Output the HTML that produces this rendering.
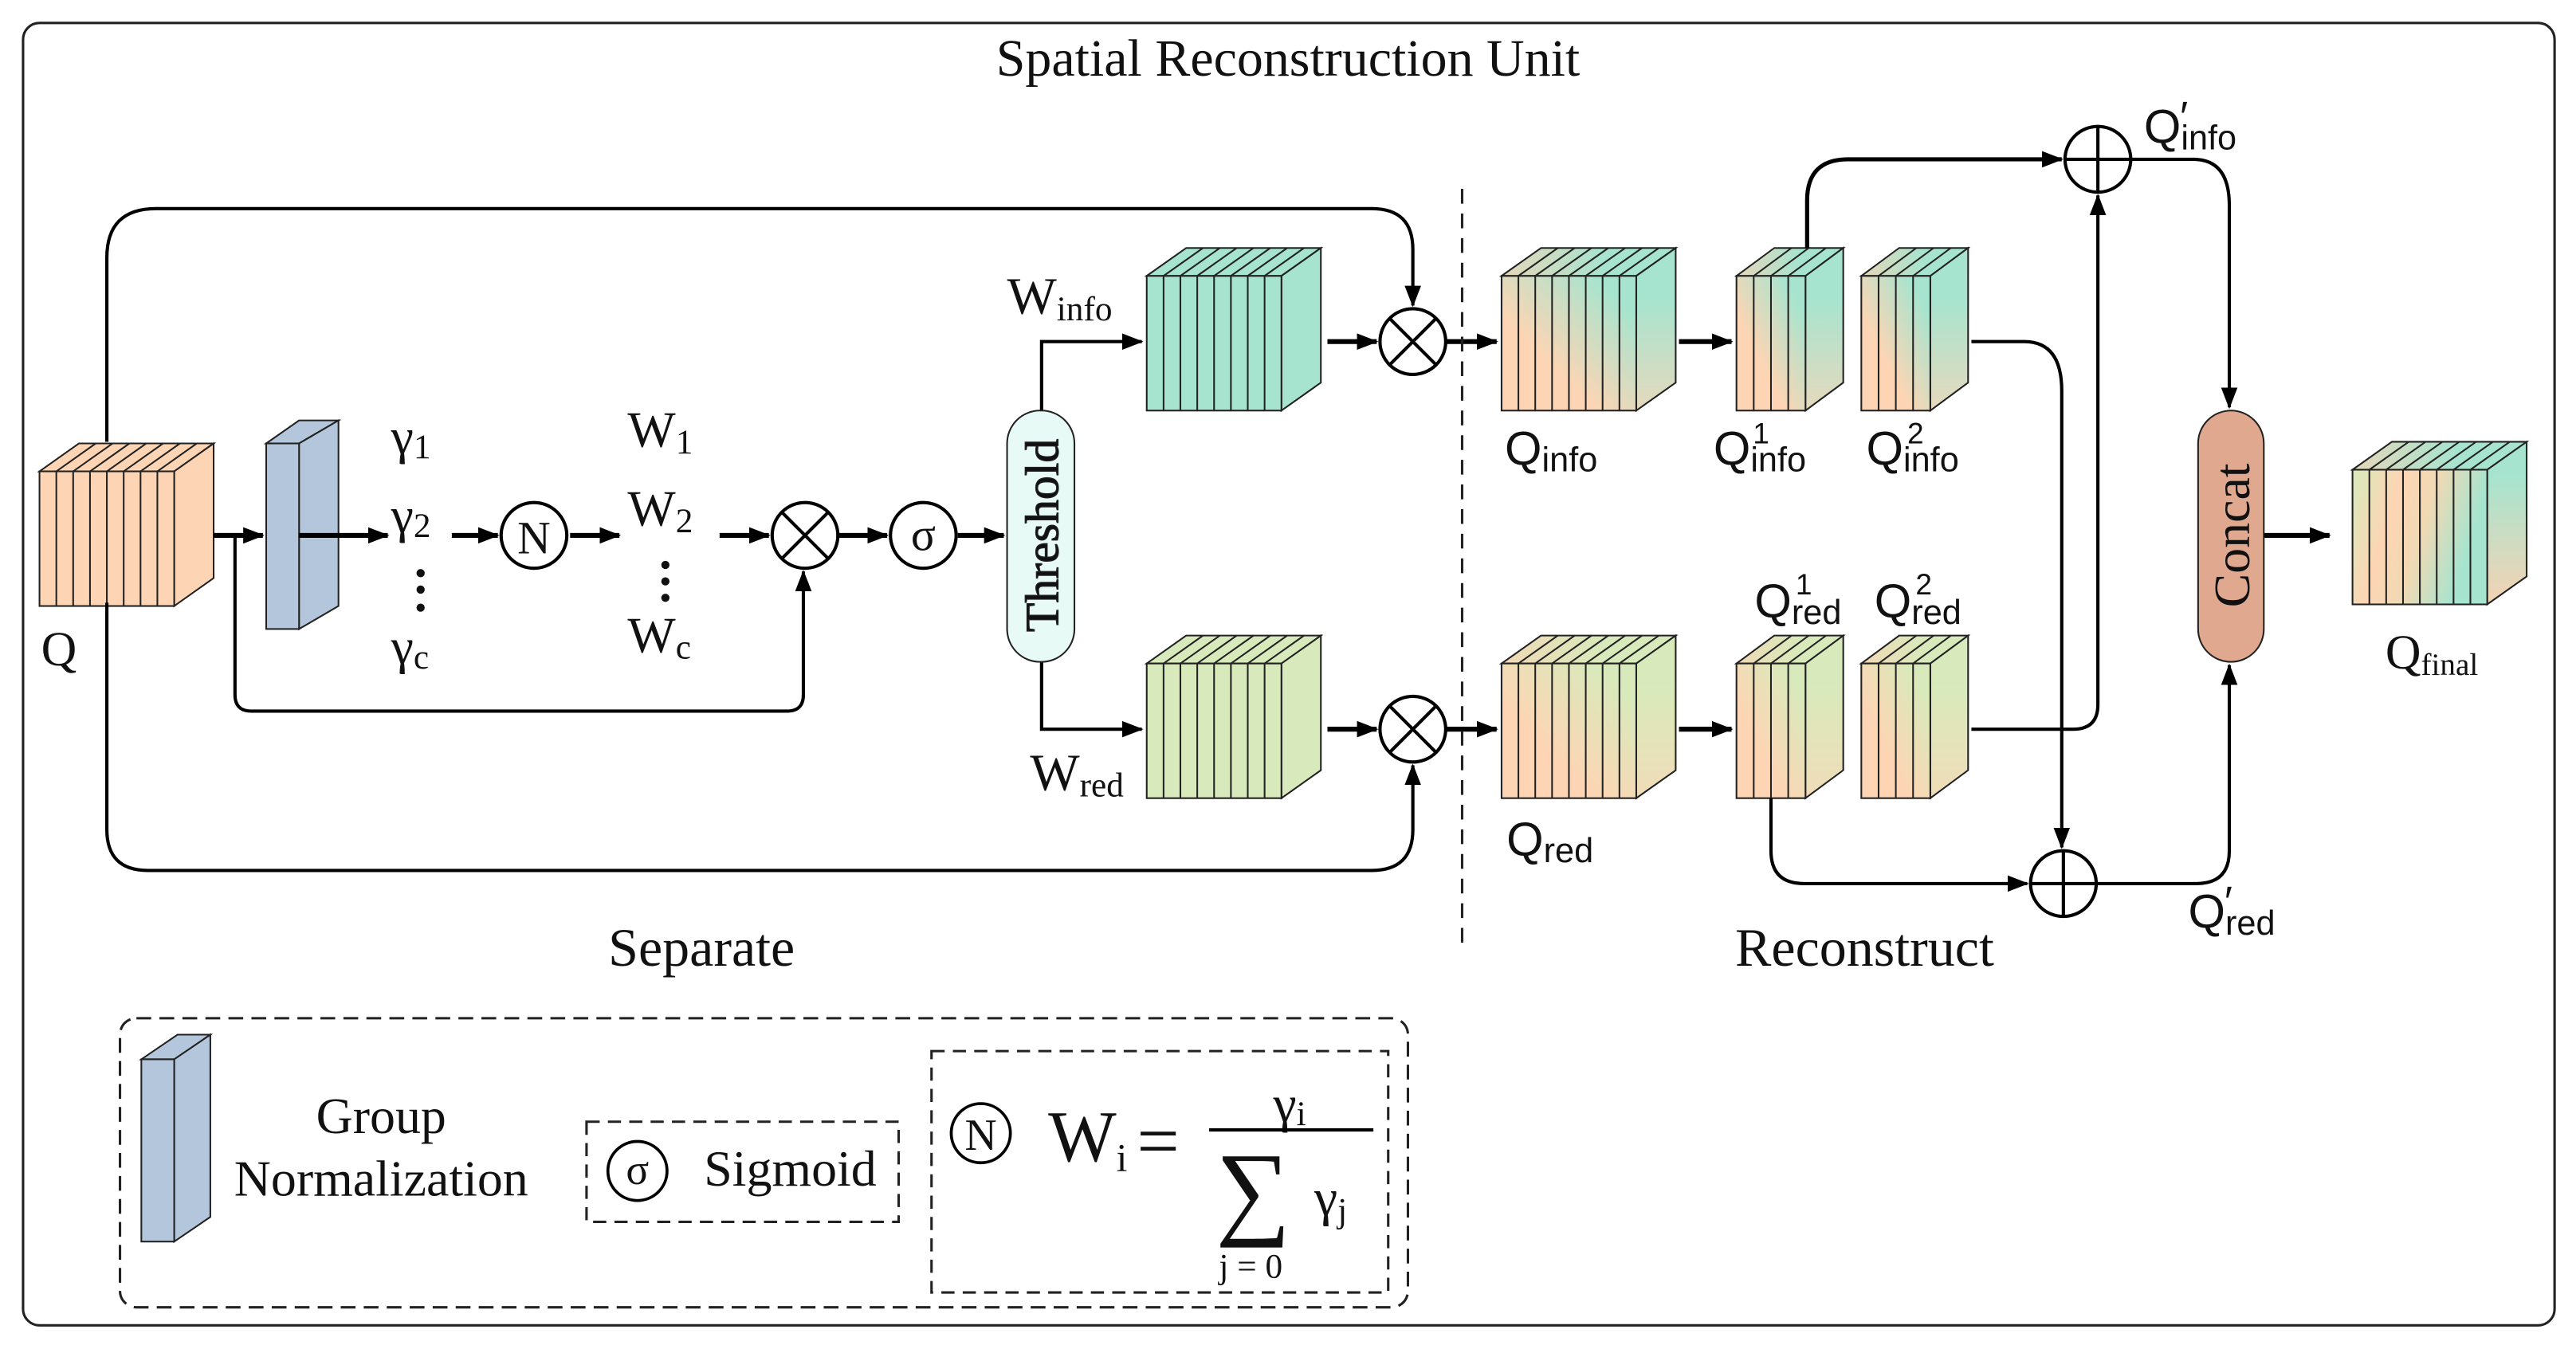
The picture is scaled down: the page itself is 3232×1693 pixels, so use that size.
<!DOCTYPE html>
<html><head><meta charset="utf-8">
<style>
html,body{margin:0;padding:0;background:#fff;}
svg{display:block;}
text{font-family:"Liberation Serif",serif;fill:#111;}
.s{font-family:"Liberation Sans",sans-serif;}
</style></head>
<body>
<svg width="3232" height="1693" viewBox="0 0 1568 821.4" xmlns="http://www.w3.org/2000/svg">
<defs>
<marker id="a" markerUnits="userSpaceOnUse" markerWidth="14" markerHeight="12" refX="12" refY="5" orient="auto">
<path d="M0,0 L13,5 L0,10 Z" fill="#000"/>
</marker>
<linearGradient id="gi" x1="0" y1="1" x2="1" y2="0">
<stop offset="0.35" stop-color="#fdd5b4"/><stop offset="0.85" stop-color="#a6e4cf"/></linearGradient>
<linearGradient id="gr" x1="0" y1="1" x2="1" y2="0">
<stop offset="0.35" stop-color="#fdd5b4"/><stop offset="0.85" stop-color="#d8eabb"/></linearGradient>
<linearGradient id="gis" x1="0" y1="0" x2="0" y2="1">
<stop offset="0.3" stop-color="#a6e4cf"/><stop offset="1" stop-color="#e6d9bd"/></linearGradient>
<linearGradient id="grs" x1="0" y1="0" x2="0" y2="1">
<stop offset="0.3" stop-color="#d8eabb"/><stop offset="1" stop-color="#f0dcb8"/></linearGradient>
<linearGradient id="git" x1="0" y1="0" x2="1" y2="0">
<stop offset="0" stop-color="#e6d6b8"/><stop offset="0.6" stop-color="#a6e4cf"/></linearGradient>
<linearGradient id="grt" x1="0" y1="0" x2="1" y2="0">
<stop offset="0" stop-color="#f0d8b6"/><stop offset="0.6" stop-color="#d8eabb"/></linearGradient>
<linearGradient id="gf" x1="0" y1="0" x2="1" y2="0.3">
<stop offset="0" stop-color="#d8eabb"/><stop offset="0.35" stop-color="#fdd5b4"/><stop offset="0.6" stop-color="#f0d9b4"/><stop offset="0.95" stop-color="#a6e4cf"/></linearGradient>
<linearGradient id="gfs" x1="0" y1="0" x2="0" y2="1">
<stop offset="0.2" stop-color="#a6e4cf"/><stop offset="1" stop-color="#f5d3b4"/></linearGradient>
<g id="big" stroke="#222" stroke-width="1">
<path d="M0,0 L24,-17 L106,-17 L82,0 Z" fill="var(--t)"/>
<path d="M82,0 L106,-17 L106,65 L82,82 Z" fill="var(--s)"/>
<rect x="0" y="0" width="82" height="82" fill="var(--f)"/>
<path fill="none" d="M10.25,0V82M20.5,0V82M30.75,0V82M41,0V82M51.25,0V82M61.5,0V82M71.75,0V82
M10.25,0l24,-17M20.5,0l24,-17M30.75,0l24,-17M41,0l24,-17M51.25,0l24,-17M61.5,0l24,-17M71.75,0l24,-17"/>
</g>
<g id="sm" stroke="#222" stroke-width="1">
<path d="M0,0 L23,-17 L65,-17 L42,0 Z" fill="var(--t)"/>
<path d="M42,0 L65,-17 L65,65 L42,82 Z" fill="var(--s)"/>
<rect x="0" y="0" width="42" height="82" fill="var(--f)"/>
<path fill="none" d="M10.5,0V82M21,0V82M31.5,0V82M10.5,0l23,-17M21,0l23,-17M31.5,0l23,-17"/>
</g>
</defs>

<rect x="14" y="14" width="1541" height="793" rx="10" fill="none" stroke="#222" stroke-width="1.5"/>
<text x="784" y="46" font-size="32" text-anchor="middle">Spatial Reconstruction Unit</text>

<use href="#big" x="24" y="287" style="--f:#fdd5b4;--t:#fdd5b4;--s:#fdd5b4"/>
<g stroke="#222" stroke-width="1" fill="#b4c6dc">
<path d="M162,270 L182,256 L206,256 L182,270 Z"/>
<path d="M182,270 L206,256 L206,369 L182,383 Z"/>
<rect x="162" y="270" width="20" height="113"/>
</g>
<use href="#big" x="698" y="168" style="--f:#a6e4cf;--t:#a6e4cf;--s:#a6e4cf"/>
<use href="#big" x="698" y="404" style="--f:#d8eabb;--t:#d8eabb;--s:#d8eabb"/>
<use href="#big" x="914" y="168" style="--f:url(#gi);--t:url(#git);--s:url(#gis)"/>
<use href="#sm" x="1057" y="168" style="--f:url(#gi);--t:url(#git);--s:url(#gis)"/>
<use href="#sm" x="1133" y="168" style="--f:url(#gi);--t:url(#git);--s:url(#gis)"/>
<use href="#big" x="914" y="404" style="--f:url(#gr);--t:url(#grt);--s:url(#grs)"/>
<use href="#sm" x="1057" y="404" style="--f:url(#gr);--t:url(#grt);--s:url(#grs)"/>
<use href="#sm" x="1133" y="404" style="--f:url(#gr);--t:url(#grt);--s:url(#grs)"/>
<use href="#big" x="1432" y="286" style="--f:url(#gf);--t:url(#git);--s:url(#gfs)"/>

<g fill="none" stroke="#000" stroke-width="2">
<path d="M65,269 V157 Q65,127 95,127 H835 Q860,127 860,152 V186" marker-end="url(#a)"/>
<path d="M65,367 V505 Q65,530 90,530 H835 Q860,530 860,505 V466" marker-end="url(#a)"/>
<path d="M130,326 H160" stroke-width="3" marker-end="url(#a)"/>
<path d="M182,326 H236" stroke-width="3" marker-end="url(#a)"/>
<path d="M275,326 H303" stroke-width="3" marker-end="url(#a)"/>
<path d="M347,326 H377" stroke-width="3" marker-end="url(#a)"/>
<path d="M438,326 H468" stroke-width="3" marker-end="url(#a)"/>
<path d="M510,326 H540" stroke-width="3" marker-end="url(#a)"/>
<path d="M583,326 H611" stroke-width="3" marker-end="url(#a)"/>
<path d="M143,326 V423 Q143,433 153,433 H479 Q489,433 489,423 V348" marker-end="url(#a)"/>
<path d="M634,250 V208 H695" marker-end="url(#a)"/>
<path d="M634,403 V444 H695" marker-end="url(#a)"/>
<path d="M808,208 H838" stroke-width="3" marker-end="url(#a)"/>
<path d="M808,444 H838" stroke-width="3" marker-end="url(#a)"/>
<path d="M880,208 H911" stroke-width="3" marker-end="url(#a)"/>
<path d="M880,444 H911" stroke-width="3" marker-end="url(#a)"/>
<path d="M1022,208 H1054" stroke-width="3" marker-end="url(#a)"/>
<path d="M1022,444 H1054" stroke-width="3" marker-end="url(#a)"/>
<path d="M1100,151 V122 Q1100,97 1125,97 H1255" stroke-width="2.5" marker-end="url(#a)"/>
<path d="M1200,208 H1232 Q1255,208 1255,238 V516" marker-end="url(#a)"/>
<path d="M1078,486 V518 Q1078,538 1098,538 H1234" marker-end="url(#a)"/>
<path d="M1200,444 H1262 Q1277,444 1277,429 V119" marker-end="url(#a)"/>
<path d="M1297,97 H1335 Q1357,97 1357,125 V248" marker-end="url(#a)"/>
<path d="M1276,538 H1337 Q1357,538 1357,518 V405" marker-end="url(#a)"/>
<path d="M1378,326 H1418" stroke-width="3" marker-end="url(#a)"/>
</g>
<line x1="890" y1="115" x2="890" y2="580" stroke="#222" stroke-width="1.5" stroke-dasharray="9,6"/>

<g fill="#fff" stroke="#000" stroke-width="2">
<circle cx="325" cy="326" r="20"/>
<circle cx="490" cy="326" r="20"/>
<circle cx="562" cy="326" r="20"/>
<circle cx="860" cy="208" r="20"/>
<circle cx="860" cy="444" r="20"/>
<circle cx="1277" cy="97" r="20"/>
<circle cx="1256" cy="538" r="20"/>
</g>
<g stroke="#000" stroke-width="2">
<path d="M476,312 L504,340 M504,312 L476,340"/>
<path d="M846,194 L874,222 M874,194 L846,222"/>
<path d="M846,430 L874,458 M874,430 L846,458"/>
<path d="M1257,97 H1297 M1277,77 V117"/>
<path d="M1236,538 H1276 M1256,518 V558"/>
</g>
<text x="325" y="337" font-size="28" text-anchor="middle">N</text>
<text x="562" y="335" font-size="28" text-anchor="middle">σ</text>

<rect x="613" y="250" width="41" height="153" rx="20" fill="#e8faf5" stroke="#222" stroke-width="1"/>
<text transform="translate(644,326) rotate(-90)" font-size="29" text-anchor="middle" stroke="#222" stroke-width="0.6" fill="#222">Threshold</text>
<rect x="1338" y="250" width="40" height="153" rx="20" fill="#e0a98f" stroke="#222" stroke-width="1"/>
<text transform="translate(1369,326) rotate(-90)" font-size="31" text-anchor="middle">Concat</text>

<text x="25" y="405" font-size="30">Q</text>
<text x="238" y="276" font-size="31">γ<tspan font-size="21" dy="3">1</tspan></text>
<text x="238" y="324" font-size="31">γ<tspan font-size="21" dy="3">2</tspan></text>
<text x="238" y="404" font-size="31">γ<tspan font-size="21" dy="3">c</tspan></text>
<g fill="#111"><circle cx="256" cy="349" r="2.5"/><circle cx="256" cy="359" r="2.5"/><circle cx="256" cy="370" r="2.5"/>
<circle cx="405" cy="344" r="2.5"/><circle cx="405" cy="354" r="2.5"/><circle cx="405" cy="364" r="2.5"/></g>
<text x="382" y="272" font-size="31">W<tspan font-size="21" dy="4">1</tspan></text>
<text x="382" y="320" font-size="31">W<tspan font-size="21" dy="4">2</tspan></text>
<text x="382" y="397" font-size="31">W<tspan font-size="21" dy="4">c</tspan></text>
<text x="613" y="191" font-size="32">W<tspan font-size="21" dy="4">info</tspan></text>
<text x="627" y="481" font-size="32">W<tspan font-size="21" dy="4">red</tspan></text>
<g class="s">
<text x="916" y="283" font-size="29" class="s">Q<tspan font-size="21" dy="4">info</tspan></text>
<text x="1043" y="283" font-size="29" class="s">Q<tspan font-size="21" dy="4">info</tspan></text>
<text x="1067" y="270" font-size="18" class="s">1</text>
<text x="1136" y="283" font-size="29" class="s">Q<tspan font-size="21" dy="4">info</tspan></text>
<text x="1161" y="270" font-size="18" class="s">2</text>
<text x="1068" y="376" font-size="29" class="s">Q<tspan font-size="21" dy="4">red</tspan></text>
<text x="1093" y="362" font-size="18" class="s">1</text>
<text x="1141" y="376" font-size="29" class="s">Q<tspan font-size="21" dy="4">red</tspan></text>
<text x="1166" y="362" font-size="18" class="s">2</text>
<text x="917" y="521" font-size="29" class="s">Q<tspan font-size="21" dy="4">red</tspan></text>
<text x="1305" y="87" font-size="29" class="s">Q<tspan font-size="21" dy="4">info</tspan></text>
<text x="1327" y="80" font-size="26" class="s">′</text>
<text x="1332" y="565" font-size="29" class="s">Q<tspan font-size="21" dy="4">red</tspan></text>
<text x="1354" y="558" font-size="26" class="s">′</text>
</g>
<text x="1452" y="407" font-size="30">Q<tspan font-size="19" dy="4">final</tspan></text>
<text x="427" y="588" font-size="33" text-anchor="middle">Separate</text>
<text x="1135" y="588" font-size="33" text-anchor="middle">Reconstruct</text>

<rect x="73" y="620" width="784" height="176" rx="10" fill="none" stroke="#222" stroke-width="1.5" stroke-dasharray="9,5"/>
<g stroke="#222" stroke-width="1" fill="#b4c6dc">
<path d="M86,645 L108,630 L128,630 L106,645 Z"/>
<path d="M106,645 L128,630 L128,741 L106,756 Z"/>
<rect x="86" y="645" width="20" height="111"/>
</g>
<text x="232" y="690" font-size="31" text-anchor="middle">Group</text>
<text x="232" y="728" font-size="31" text-anchor="middle">Normalization</text>
<rect x="357" y="683" width="190" height="61" fill="none" stroke="#222" stroke-width="1.5" stroke-dasharray="8,5"/>
<circle cx="388" cy="713" r="18" fill="none" stroke="#000" stroke-width="1.8"/>
<text x="388" y="721" font-size="26" text-anchor="middle">σ</text>
<text x="481" y="722" font-size="31" text-anchor="middle">Sigmoid</text>
<rect x="567" y="640" width="278" height="147" fill="none" stroke="#222" stroke-width="1.5" stroke-dasharray="8,5"/>
<circle cx="597" cy="690" r="18" fill="none" stroke="#000" stroke-width="1.8"/>
<text x="597" y="700" font-size="27" text-anchor="middle">N</text>
<text x="638" y="707" font-size="44">W<tspan font-size="24" dy="6">i</tspan></text>
<text x="692" y="710" font-size="46">=</text>
<text x="775" y="683" font-size="32">γ<tspan font-size="21" dy="2">i</tspan></text>
<line x1="736" y1="688" x2="836" y2="688" stroke="#000" stroke-width="2"/>
<text x="740" y="746" font-size="64" font-family="DejaVu Serif, serif">∑</text>
<text x="800" y="740" font-size="32">γ<tspan font-size="21" dy="4">j</tspan></text>
<text x="742" y="778" font-size="21">j = 0</text>
</svg>
</body></html>
